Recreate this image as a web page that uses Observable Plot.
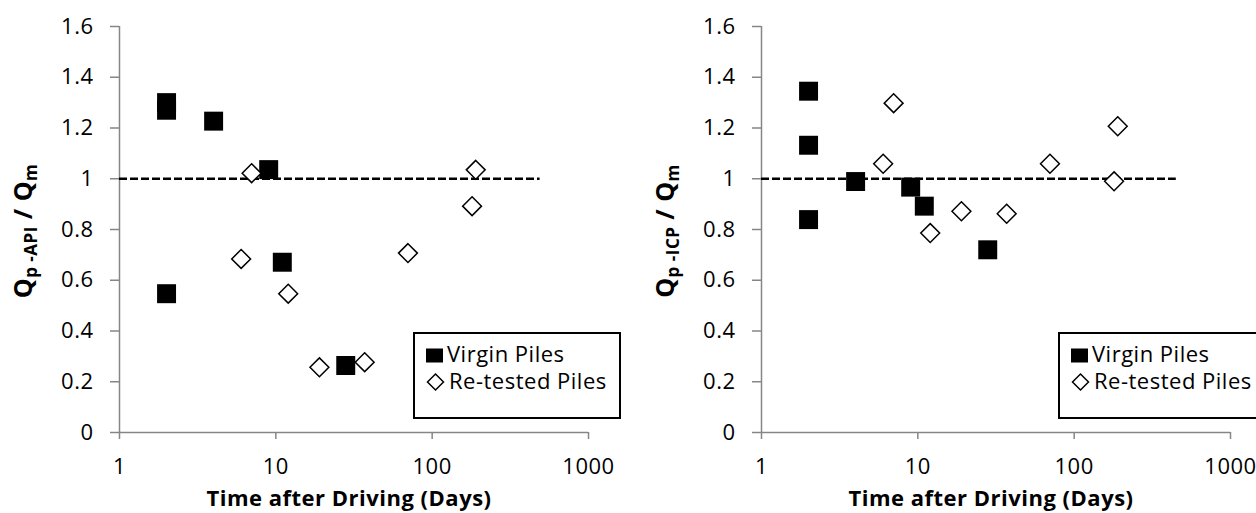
<!DOCTYPE html>
<html><head><meta charset="utf-8">
<script src="https://cdn.jsdelivr.net/npm/d3@7"></script>
<script src="https://cdn.jsdelivr.net/npm/@observablehq/plot@0.6"></script>
<style>
html,body{margin:0;padding:0;background:#fff;overflow:hidden;}
#wrap{position:relative;width:1256px;height:513px;overflow:hidden;}
.chart{position:absolute;top:0;}
.legend{position:absolute;top:332px;}
</style>
</head><body>
<div id="wrap"></div>
<script>
// ---- data ----
const xTicks = [1, 10, 100, 1000];
const xTickLabels = ["1", "10", "100", "1000"];
const yTicks = [0, 0.2, 0.4, 0.6, 0.8, 1, 1.2, 1.4, 1.6];
const yTickLabels = ["0", "0.2", "0.4", "0.6", "0.8", "1", "1.2", "1.4", "1.6"];
const xLabel = "Time after Driving (Days)";
const seriesNames = ["Virgin Piles", "Re-tested Piles"];

// API chart
const virginDaysAPI = [2, 2, 4, 9, 2, 11, 28];
const virginAPI = [1.30, 1.27, 1.227, 1.036, 0.547, 0.671, 0.264];
const retestDaysAPI = [7, 6, 12, 19, 37, 70, 180, 190];
const retestAPI = [1.022, 0.684, 0.547, 0.257, 0.277, 0.707, 0.892, 1.035];
const refLineAPI = {y: 1, x1: 1, x2: 490};

// ICP chart
const virginDaysICP = [2, 2, 2, 4, 9, 11, 28];
const virginICP = [1.345, 1.132, 0.839, 0.989, 0.967, 0.892, 0.72];
const retestDaysICP = [7, 6, 12, 19, 37, 70, 190, 180];
const retestICP = [1.298, 1.059, 0.786, 0.872, 0.862, 1.059, 1.207, 0.990];
const refLineICP = {y: 1, x1: 1, x2: 450};

const FONT = '"Open Sans", sans-serif';

function chart({width, vDays, vVals, rDays, rVals, ref, ySub}) {
  const v = vDays.map((d, i) => ({x: d, y: vVals[i]}));
  const r = rDays.map((d, i) => ({x: d, y: rVals[i]}));
  const svg = Plot.plot({
    width, height: 513,
    marginLeft: 119, marginRight: width - 588, marginTop: 26, marginBottom: 81,
    style: {fontFamily: FONT, fontSize: "22px", background: "white", letterSpacing: "0.5px", overflow: "hidden"},
    x: {type: "log", domain: [1, 1000]},
    y: {domain: [0, 1.6]},
    marks: [
      Plot.axisY({ticks: yTicks, tickFormat: d => yTickLabels[yTicks.indexOf(d)], tickSize: 9, tickPadding: 17, stroke: "#868686", strokeWidth: 1.5, fill: "#000", label: null}),
      Plot.axisX({ticks: xTicks, tickFormat: d => xTickLabels[xTicks.indexOf(d)], tickSize: 7, tickPadding: 19, stroke: "#868686", strokeWidth: 1.5, fill: "#000", label: null}),
      Plot.ruleX([1], {stroke: "#868686", strokeWidth: 1.5}),
      Plot.ruleY([0], {stroke: "#868686", strokeWidth: 1.5}),
      Plot.ruleY([ref], {y: "y", x1: "x1", x2: "x2", stroke: "#000", strokeWidth: 2.5, strokeDasharray: "8,3"}),
      Plot.dot(v, {x: "x", y: "y", symbol: "square", r: 10.7, fill: "#000"}),
      Plot.dot(r, {x: "x", y: "y", symbol: "diamond2", r: 8.5, fill: "#fff", stroke: "#000", strokeWidth: 1.5}),
      Plot.text([xLabel], {text: d => d, frameAnchor: "bottom", dy: 66, dx: -5, fontWeight: "bold", fontSize: 22, lineAnchor: "middle", fill: "#000"})
    ]
  });
  const t = d3.select(svg).append("text")
    .attr("transform", "translate(32,231) rotate(-90)")
    .attr("text-anchor", "middle")
    .attr("font-weight", "bold")
    .attr("font-size", 25)
    .attr("fill", "#000");
  t.append("tspan").text("Q");
  t.append("tspan").attr("font-size", 17).attr("dy", 5).text(ySub);
  t.append("tspan").attr("dy", -5).text(" / Q");
  t.append("tspan").attr("font-size", 17).attr("dy", 5).text("m");
  return svg;
}

function legend(left) {
  const s = d3.create("svg").attr("class", "legend").attr("width", 210).attr("height", 88)
    .style("left", left + "px")
    .style("font-family", FONT).style("font-size", "22px").style("letter-spacing", "0.5px");
  s.append("rect").attr("x", 1).attr("y", 1).attr("width", 206).attr("height", 85).attr("fill", "#fff").attr("stroke", "#000").attr("stroke-width", 2);
  s.append("rect").attr("x", 13).attr("y", 16.5).attr("width", 17).attr("height", 14).attr("fill", "#000");
  s.append("path").attr("d", "M22.5,42 L30.5,50 L22.5,58 L14.5,50 Z").attr("fill", "#fff").attr("stroke", "#000").attr("stroke-width", 1.5);
  s.append("text").attr("x", 34).attr("y", 29.5).text(seriesNames[0]);
  s.append("text").attr("x", 36).attr("y", 57).text(seriesNames[1]);
  return s.node();
}

const wrap = document.getElementById("wrap");
const c1 = chart({width: 642, vDays: virginDaysAPI, vVals: virginAPI, rDays: retestDaysAPI, rVals: retestAPI, ref: refLineAPI, ySub: "p -API"});
c1.classList.add("chart"); c1.style.left = "0px";
const c2 = chart({width: 614, vDays: virginDaysICP, vVals: virginICP, rDays: retestDaysICP, rVals: retestICP, ref: refLineICP, ySub: "p -ICP"});
c2.classList.add("chart"); c2.style.left = "642px";
wrap.appendChild(c1);
wrap.appendChild(c2);
wrap.appendChild(legend(413));
wrap.appendChild(legend(1058));
</script>
</body></html>
